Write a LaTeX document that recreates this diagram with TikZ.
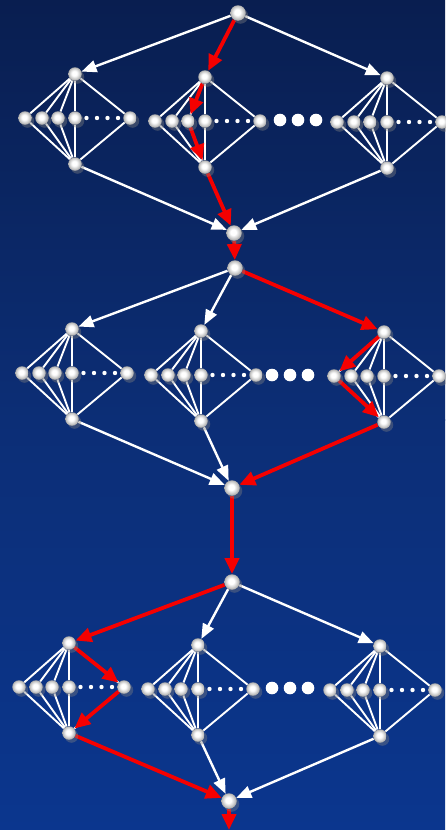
\documentclass[tikz,border=0pt]{standalone}
\usetikzlibrary{arrows.meta,shadows}
\pgfdeclarelayer{bg}
\pgfdeclarelayer{edges}
\pgfdeclarelayer{hot}
\pgfsetlayers{bg,edges,hot,main}
\definecolor{bgtop}{RGB}{9,30,80}
\definecolor{bgmid}{RGB}{12,46,118}
\definecolor{bgbot}{RGB}{11,54,142}
\definecolor{hotred}{RGB}{245,0,0}
\pgfdeclareradialshading{pearl}{\pgfpoint{-3bp}{3bp}}{color(0bp)=(white); color(9bp)=(white); color(20bp)=(black!22); color(28bp)=(black!42); color(50bp)=(black!42)}
\tikzset{
  gball/.style={circle, inner sep=0pt, minimum size=13.5pt, shading=pearl,
    drop shadow={opacity=0.4, shadow xshift=2.5pt, shadow yshift=-3pt}},
  bigball/.style={gball, minimum size=15.5pt},
  gline/.style={draw=white, line width=1.9pt},
  warrow/.style={draw=white, line width=2.4pt, -{Triangle[length=15pt,width=12pt]}},
  rarrow/.style={draw=hotred, line width=3.8pt, -{Triangle[length=16pt,width=14pt]}},
  sdot/.style={fill=white},
}
\newcommand{\mkgadget}[3]{%
  \node[gball] (#1-t) at (#2,#3) {};
  \node[gball] (#1-1) at ({#2-50},{#3+44}) {};
  \node[gball] (#1-2) at ({#2-33},{#3+44}) {};
  \node[gball] (#1-3) at ({#2-17},{#3+44}) {};
  \node[gball] (#1-4) at ({#2},{#3+44}) {};
  \node[gball] (#1-5) at ({#2+55},{#3+44}) {};
  \node[gball] (#1-b) at ({#2},{#3+90}) {};
  \fill[sdot] ({#2+11.5},{#3+44}) circle (2.2pt);
  \fill[sdot] ({#2+22},{#3+44}) circle (2.2pt);
  \fill[sdot] ({#2+32.5},{#3+44}) circle (2.2pt);
  \fill[sdot] ({#2+43},{#3+44}) circle (2.2pt);
  \begin{pgfonlayer}{edges}
    \foreach \k in {1,...,5}{\draw[gline] (#1-t) -- (#1-\k); \draw[gline] (#1-b) -- (#1-\k);}
  \end{pgfonlayer}
}
\newcommand{\bigdots}[2]{%
  \fill[sdot] ({#1},{#2}) circle (6.3pt);
  \fill[sdot] ({#1+18},{#2}) circle (6.3pt);
  \fill[sdot] ({#1+36},{#2}) circle (6.3pt);
}
\begin{document}
\begin{tikzpicture}[x=1pt,y=-1pt]
\useasboundingbox (0,0) rectangle (445,830);
\begin{pgfonlayer}{bg}
  \shade[top color=bgtop, bottom color=bgmid] (0,0) rectangle (445,420);
  \shade[top color=bgmid, bottom color=bgbot] (0,419.5) rectangle (445,830);
\end{pgfonlayer}

% stage 1
\node[bigball] (s1) at (238,13) {};
\mkgadget{A}{75}{74}
\mkgadget{B}{205}{77}
\mkgadget{C}{387}{78}
\bigdots{280}{120}
\node[bigball] (e1) at (234,233) {};

% stage 2
\node[bigball] (s2) at (235,268) {};
\mkgadget{D}{72}{329}
\mkgadget{E}{201}{331}
\mkgadget{F}{384}{332}
\bigdots{272}{375}
\node[bigball] (e2) at (232,488) {};

% stage 3
\node[bigball] (s3) at (232,582) {};
\mkgadget{G}{69}{643}
\mkgadget{H}{198}{645}
\mkgadget{I}{380}{646}
\bigdots{272}{688}
\node[bigball] (e3) at (229,801) {};
\coordinate (out) at (229,830);

\begin{pgfonlayer}{edges}
  \draw[warrow] (s1) -- (A-t);
  \draw[warrow] (s1) -- (C-t);
  \draw[warrow] (A-b) -- (e1);
  \draw[warrow] (C-b) -- (e1);
  \draw[warrow] (s2) -- (D-t);
  \draw[warrow] (s2) -- (E-t);
  \draw[warrow] (D-b) -- (e2);
  \draw[warrow] (E-b) -- (e2);
  \draw[warrow] (s3) -- (H-t);
  \draw[warrow] (s3) -- (I-t);
  \draw[warrow] (H-b) -- (e3);
  \draw[warrow] (I-b) -- (e3);
\end{pgfonlayer}
\begin{pgfonlayer}{hot}
  \draw[rarrow] (s1) -- (B-t);
  \draw[rarrow] (B-t) -- (B-3);
  \draw[rarrow] (B-3) -- (B-b);
  \draw[rarrow] (B-b) -- (e1);
  \draw[rarrow] (e1) -- (s2);
  \draw[rarrow] (s2) -- (F-t);
  \draw[rarrow] (F-t) -- (F-1);
  \draw[rarrow] (F-1) -- (F-b);
  \draw[rarrow] (F-b) -- (e2);
  \draw[rarrow] (e2) -- (s3);
  \draw[rarrow] (s3) -- (G-t);
  \draw[rarrow] (G-t) -- (G-5);
  \draw[rarrow] (G-5) -- (G-b);
  \draw[rarrow] (G-b) -- (e3);
  \draw[rarrow] (e3) -- (out);
\end{pgfonlayer}
\end{tikzpicture}
\end{document}
